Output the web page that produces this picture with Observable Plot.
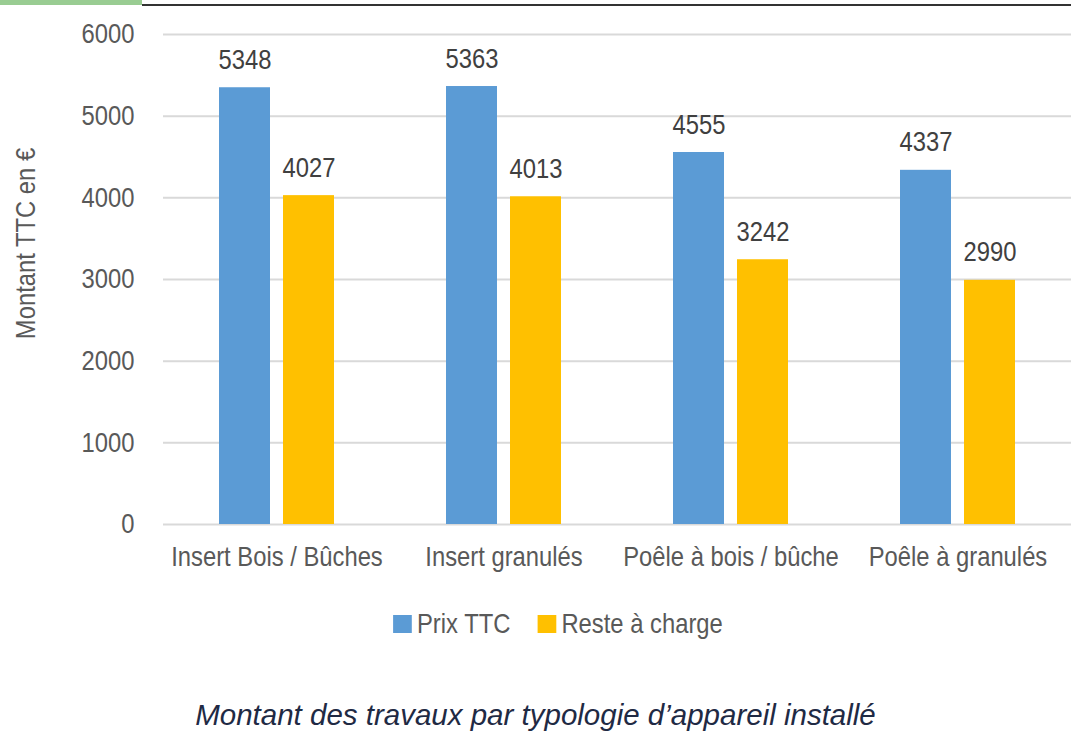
<!DOCTYPE html>
<html>
<head>
<meta charset="utf-8">
<script src="https://cdn.jsdelivr.net/npm/d3@7"></script>
<script src="https://cdn.jsdelivr.net/npm/@observablehq/plot@0.6"></script>
<style>
  html, body { margin: 0; padding: 0; background: #fff; }
  #wrap { position: relative; width: 1071px; height: 737px; background: #fff; }
  #chart { position: absolute; left: 0; top: 0; width: 1071px; }
  #green { position: absolute; left: 0; top: 0; width: 142px; height: 5px; background: #99cc92; }
  #topline { position: absolute; left: 142px; top: 4px; width: 929px; height: 2px; background: #333; }
  #legend { position: absolute; left: 45px; top: 607px; width: 1026px; display: flex; justify-content: center;
            transform: scaleX(0.85); transform-origin: center top; }
  #title { position: absolute; left: 0; top: 700px; width: 1071px; text-align: center;
           font: italic 29.5px/30px "Liberation Sans", Arial, sans-serif; color: #1f2a44; }
  .lg-swatches { margin: 0 !important; font-family: "Liberation Sans", Arial, sans-serif !important;
                 font-size: 28px !important; color: #595959; }
  .lg-swatch { margin-right: 32px !important; }
  .lg-swatch:last-child { margin-right: 0 !important; }
  .lg-swatch > svg { margin-right: 6px !important; }
</style>
</head>
<body>
<div id="wrap">
  <div id="chart"></div>
  <div id="green"></div>
  <div id="topline"></div>
  <div id="legend"></div>
  <div id="title">Montant des travaux par typologie d’appareil installé</div>
</div>
<script>
const categories = ["Insert Bois / Bûches", "Insert granulés", "Poêle à bois / bûche", "Poêle à granulés"];
const series = ["Prix TTC", "Reste à charge"];
const prixTTC = [5348, 5363, 4555, 4337];
const resteACharge = [4027, 4013, 3242, 2990];
const yTicks = [0, 1000, 2000, 3000, 4000, 5000, 6000];
const yLabel = "Montant TTC en €";
const colors = ["#5B9BD5", "#FFC000"];

const FONT = '"Liberation Sans", Arial, sans-serif';
const CONDENSE = 0.85;

const data = categories.flatMap((c, i) => [
  {category: c, series: series[0], value: prixTTC[i]},
  {category: c, series: series[1], value: resteACharge[i]}
]);

const chart = Plot.plot({
  width: 1071,
  height: 590,
  marginTop: 34,
  marginBottom: 66,
  marginLeft: 162,
  marginRight: 0,
  style: {fontFamily: FONT, fontSize: "28px", color: "#595959", background: "transparent", overflow: "visible"},
  fx: {domain: categories, padding: 0, label: null, tickSize: 0, tickPadding: 22, axis: "bottom"},
  x: {domain: series, paddingInner: 0.208, paddingOuter: 0.868, axis: null},
  y: {domain: [0, 6000], axis: null},
  color: {domain: series, range: colors},
  marks: [
    Plot.ruleY(yTicks, {stroke: "#d9d9d9", strokeWidth: 2}),
    Plot.barY(data, {fx: "category", x: "series", y: "value", fill: "series"}),
    Plot.text(data, {fx: "category", x: "series", y: "value", text: d => String(d.value),
                     lineAnchor: "bottom", dy: -19, fill: "#404040"}),
    Plot.axisY(yTicks, {anchor: "left", tickSize: 0, tickPadding: 29, label: null, tickFormat: d => String(d)}),
    Plot.text([yLabel], {frameAnchor: "left", textAnchor: "middle", rotate: -90, dx: -137, dy: -36,
                         text: d => d, facetAnchor: "left", fill: "#595959"})
  ]
});
document.getElementById("chart").appendChild(chart);

// condensed lettering, as in the reference: squeeze each label along its own baseline
chart.querySelectorAll("text").forEach(t => {
  let tr = t.getAttribute("transform") || "";
  const x = t.getAttribute("x");
  const y = t.getAttribute("y");
  let tx = 0, ty = 0;
  if (x !== null && !/em$/.test(x)) { tx = +x; t.removeAttribute("x"); }
  if (y !== null && !/em$/.test(y)) { ty = +y; t.removeAttribute("y"); }
  if (tx || ty) tr += ` translate(${tx},${ty})`;
  t.setAttribute("transform", `${tr} scale(${CONDENSE},1)`.trim());
});

const legend = Plot.legend({
  color: {domain: series, range: colors},
  swatchWidth: 22,
  swatchHeight: 18,
  className: "lg"
});
document.getElementById("legend").appendChild(legend);
</script>
</body>
</html>
